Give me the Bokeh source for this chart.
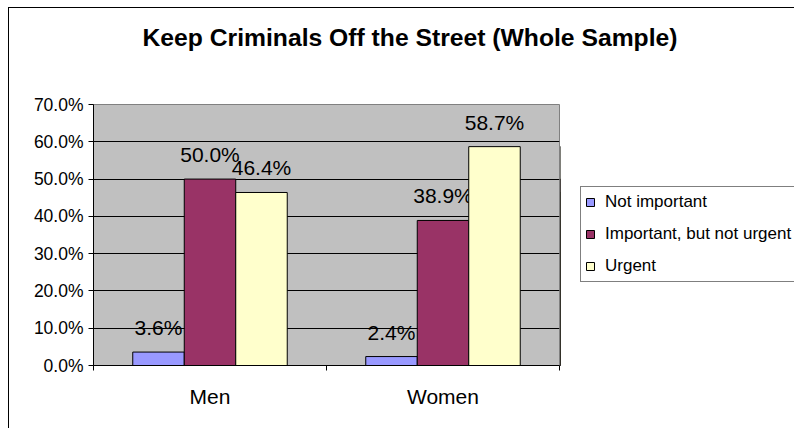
from bokeh.plotting import figure
from bokeh.models import (ColumnDataSource, Legend, LegendItem, FixedTicker,
                          PrintfTickFormatter, Title, Range1d)
from bokeh.layouts import column, row
from bokeh.core.properties import value
from bokeh.embed import file_html
from bokeh.resources import INLINE

categories = ["Men", "Women"]
series_names = ["Not important", "Important, but not urgent", "Urgent"]
not_important = [3.6, 2.4]
important_not_urgent = [50.0, 38.9]
urgent = [46.4, 58.7]
y_ticks = [0, 10, 20, 30, 40, 50, 60, 70]
chart_title = "Keep Criminals Off the Street (Whole Sample)"

colors = ["#9999FF", "#993366", "#FFFFCC"]
series_values = [not_important, important_not_urgent, urgent]
bar_w = 0.221
offsets = [-bar_w, 0.0, bar_w]
FONT = "Liberation Sans"

# ---- title strip -------------------------------------------------------
pt = figure(width=785, height=86, output_backend="svg", toolbar_location=None,
            x_axis_location=None, y_axis_location=None, min_border=0,
            x_range=Range1d(0, 1), y_range=Range1d(0, 1))
pt.outline_line_color = None
pt.grid.grid_line_color = None
pt.background_fill_color = "white"
pt.border_fill_color = "white"
pt.add_layout(Title(text=chart_title, align="left", offset=133, standoff=26,
                    text_font=FONT, text_font_size="24.7px",
                    text_font_style="bold", text_color="black"), "above")

# ---- main plot ---------------------------------------------------------
p = figure(width=551, height=334, output_backend="svg", toolbar_location=None,
           x_range=Range1d(0, len(categories)), y_range=Range1d(0, 70),
           min_border_left=84, min_border_right=1, min_border_top=10,
           min_border_bottom=63)
p.background_fill_color = "#C0C0C0"
p.border_fill_color = "white"
p.outline_line_color = "#808080"
p.outline_line_width = 1

sources = []
for i, (name, vals) in enumerate(zip(series_names, series_values)):
    xs = [k + 0.5 + offsets[i] for k in range(len(categories))]
    src = ColumnDataSource(dict(x=xs, top=vals,
                                lab=["%.1f%%" % v for v in vals]))
    sources.append(src)
    p.vbar(x="x", top="top", width=bar_w, source=src,
           fill_color=colors[i], line_color="black", line_width=1)
    p.text(x="x", y="top", text="lab", source=src, text_align="center",
           text_baseline="bottom", y_offset=-13, text_font=value(FONT),
           text_font_size="21px", text_color="black")

p.yaxis.ticker = FixedTicker(ticks=y_ticks, minor_ticks=[])
p.yaxis.formatter = PrintfTickFormatter(format="%.1f%%")
p.yaxis.major_label_text_font = FONT
p.yaxis.major_label_text_font_size = "17.5px"
p.yaxis.major_label_text_color = "black"
p.yaxis.major_tick_out = 5
p.yaxis.major_tick_in = 0
p.yaxis.major_label_standoff = 5
p.yaxis.axis_line_color = "black"
p.yaxis.major_tick_line_color = "black"

centers = [k + 0.5 for k in range(len(categories))]
p.xaxis.ticker = FixedTicker(ticks=centers,
                             minor_ticks=list(range(len(categories) + 1)))
p.xaxis.major_label_overrides = {c: lab for c, lab in zip(centers, categories)}
p.xaxis.major_label_text_font = FONT
p.xaxis.major_label_text_font_size = "21px"
p.xaxis.major_label_text_color = "black"
p.xaxis.major_tick_line_color = None
p.xaxis.major_tick_out = 0
p.xaxis.major_tick_in = 0
p.xaxis.minor_tick_out = 5
p.xaxis.minor_tick_in = 0
p.xaxis.minor_tick_line_color = "black"
p.xaxis.major_label_standoff = 14
p.xaxis.axis_line_color = "black"

p.xgrid.grid_line_color = None
p.ygrid.grid_line_color = "black"
p.ygrid.grid_line_width = 1

# ---- legend panel (same series, drawn outside its own visible range) ----
pl = figure(width=234, height=334, output_backend="svg", toolbar_location=None,
            x_axis_location=None, y_axis_location=None, min_border=0,
            x_range=Range1d(100, 101), y_range=Range1d(0, 70))
pl.outline_line_color = None
pl.grid.grid_line_color = None
pl.background_fill_color = "white"
pl.border_fill_color = "white"
leg_items = []
for name, c, src in zip(series_names, colors, sources):
    rr = pl.vbar(x="x", top="top", width=bar_w, source=src, fill_color=c,
                 line_color="black", line_width=1)
    leg_items.append(LegendItem(label=name, renderers=[rr]))

legend = Legend(items=leg_items, location=(20, 83), border_line_color="black",
                border_line_width=1, background_fill_color="white",
                background_fill_alpha=1.0, padding=4, spacing=10,
                label_height=22, glyph_height=10, glyph_width=10,
                label_standoff=10, label_text_font=FONT,
                label_text_color="black", label_text_font_size="17px",
                margin=0)
pl.add_layout(legend, "center")

layout = column(pt, row(p, pl))
layout.styles = {"border-left": "1px solid black",
                 "border-top": "1px solid black",
                 "margin-left": "8px", "margin-top": "7px"}

open("out.html", "w").write(file_html(layout, INLINE))
